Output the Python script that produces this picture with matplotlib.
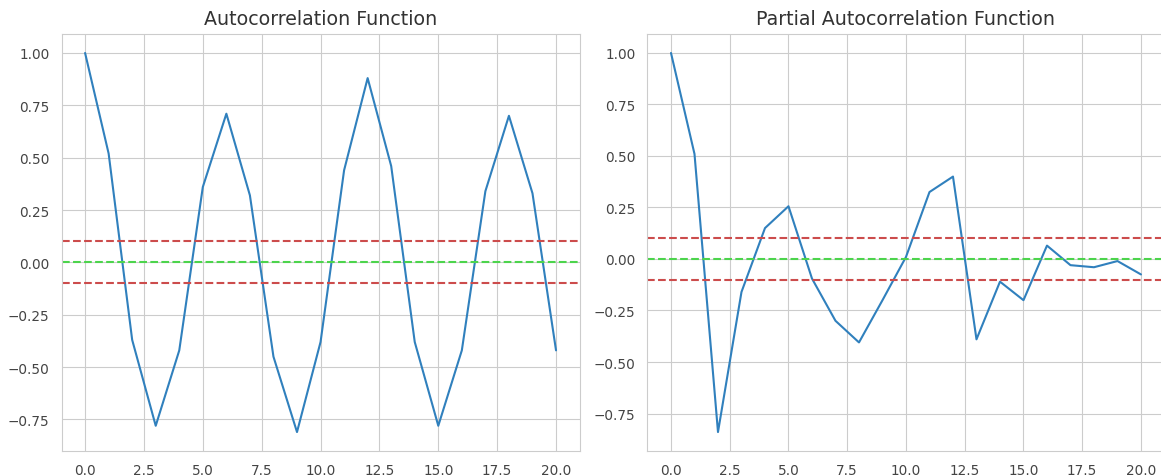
import numpy as np
import matplotlib
matplotlib.use('Agg')
import matplotlib.pyplot as plt
import seaborn as sns

# --- values
lags = list(range(21))
acf_vals = [1.00, 0.52, -0.37, -0.78, -0.42, 0.36, 0.71, 0.32, -0.45, -0.81, -0.38,
            0.44, 0.88, 0.46, -0.38, -0.78, -0.42, 0.34, 0.70, 0.33, -0.42]
pacf_vals = [1.00, 0.51, -0.84, -0.16, 0.15, 0.256, -0.095, -0.30, -0.405, -0.20, 0.01,
             0.325, 0.40, -0.39, -0.11, -0.20, 0.065, -0.03, -0.04, -0.01, -0.075]
conf_bound = 0.1

sns.set_style('whitegrid')
plt.rcParams['font.family'] = ['DejaVu Sans']

fig = plt.figure(figsize=(11.61, 4.77), dpi=100)
ax1 = fig.add_axes([0.053, 0.0524, 0.4462, 0.8742])
ax2 = fig.add_axes([0.5577, 0.0524, 0.4453, 0.8742])

for ax, vals, title in [(ax1, acf_vals, 'Autocorrelation Function'),
                        (ax2, pacf_vals, 'Partial Autocorrelation Function')]:
    ax.plot(lags, vals, color='#3080bd', linewidth=1.5)
    ax.axhline(y=0, linestyle='--', color='#4cd44c', linewidth=1.5)
    ax.axhline(y=-conf_bound, linestyle='--', color='#cc4c4c', linewidth=1.5)
    ax.axhline(y=conf_bound, linestyle='--', color='#cc4c4c', linewidth=1.5)
    ax.set_title(title, fontsize=13.7, color='#333333', pad=7)
    ax.tick_params(labelsize=9.8, colors='#444444', pad=5)
    ax.set_xticks([0, 2.5, 5, 7.5, 10, 12.5, 15, 17.5, 20])
    ax.set_yticks([-0.75, -0.5, -0.25, 0, 0.25, 0.5, 0.75, 1.0])

fig.savefig('out.png', dpi=100)
